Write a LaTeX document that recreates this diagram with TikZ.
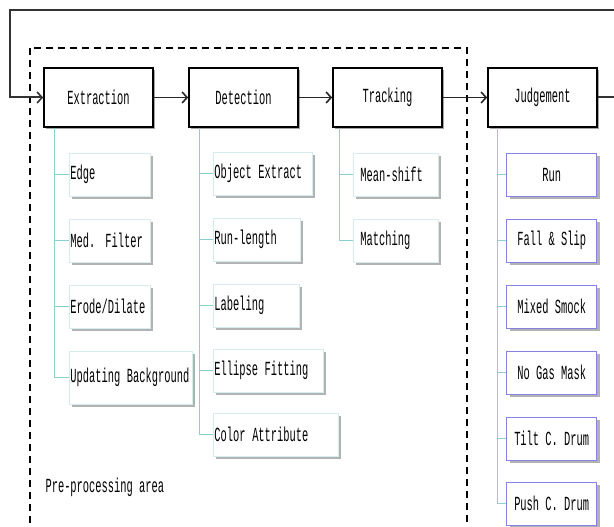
\documentclass[tikz,border=0pt]{standalone}
\usepackage{fontspec}
\newfontfamily\gulim[FakeStretch=0.52]{Liberation Mono}
\usepackage{tikz}
\usetikzlibrary{arrows.meta, calc, shadows, positioning}
\definecolor{treecol}{HTML}{8CCFD2}
\definecolor{leafcol}{HTML}{D6ECEE}
\definecolor{judgecol}{HTML}{8484E0}
\newcommand\branch[3]{
    \draw [treeline] ($(#1.south west)+(#2,0)$) |- (#3.west);
}
\tikzstyle{label}    = [font=\gulim\fontsize{20pt}{22pt}\selectfont]
\tikzstyle{mainbox}  = [label,rectangle,draw=black,line width=1.6pt,fill=white,minimum width=109pt,minimum height=59pt,drop shadow={shadow xshift=2pt,shadow yshift=-2pt,fill=black!70}]
\tikzstyle{leaf}     = [label,rectangle,draw=leafcol,fill=white,minimum height=43pt,inner xsep=1pt,align=left,anchor=west,drop shadow={shadow xshift=3pt,shadow yshift=-3pt,fill=black!60}]
\tikzstyle{verdict}  = [label,rectangle,draw=judgecol,line width=1pt,fill=white,minimum width=90pt,minimum height=43pt,anchor=west,drop shadow={shadow xshift=3pt,shadow yshift=-3pt,fill=black!60}]
\tikzstyle{treeline} = [draw=treecol,line width=0.8pt]
\tikzstyle{flow}     = [draw=black!85,line width=1.6pt,-{Straight Barb[length=5pt,width=11pt,line width=1.6pt]}]
\tikzstyle{area}     = [draw=black,line width=1.5pt,dash pattern=on 7pt off 5pt]

\begin{document}
\begin{tikzpicture}[x=1pt,y=-1pt]
        \clip (0,0) rectangle (614,527);

        \draw [area] (30,48) rectangle (467,528.5);

        \node[mainbox] (extraction) at (98.5,97.5)                  {Extraction};
        \node[mainbox] (detection)  at ($(extraction)+(145,0)$)     {Detection};
        \node[mainbox] (tracking)   at ($(detection)+(144,0)$)      {Tracking};
        \node[mainbox] (judgement)  at ($(tracking)+(155,0)$)       {Judgement};

        % extraction
        \node[leaf,text width=79pt]  (edge)      at ($(extraction.south west)+(26,47)$) {Edge};
        \node[leaf,text width=79pt]  (medfilter) at ($(edge.west)+(0,66)$)              {Med. Filter};
        \node[leaf,text width=79pt]  (erode)     at ($(medfilter.west)+(0,66)$)         {Erode/Dilate};
        \node[leaf,text width=121pt,minimum height=53pt] (updating) at ($(erode.west)+(0,71)$) {Updating Background};

        % detection
        \node[leaf,text width=97pt]  (objext)    at ($(detection.south west)+(25,46)$)  {Object Extract};
        \node[leaf,text width=85pt]  (runlength) at ($(objext.west)+(0,66)$)            {Run-length};
        \node[leaf,text width=84pt]  (labeling)  at ($(runlength.west)+(0,66)$)         {Labeling};
        \node[leaf,text width=108pt] (ellipse)   at ($(labeling.west)+(0,65)$)          {Ellipse Fitting};
        \node[leaf,text width=123pt] (colorattr) at ($(ellipse.west)+(0,64)$)           {Color Attribute};

        % tracking
        \node[leaf,inner xsep=7pt,text width=71pt] (meanshift) at ($(tracking.south west)+(21,47)$) {Mean-shift};
        \node[leaf,inner xsep=7pt,text width=71pt] (matching)  at ($(meanshift.west)+(0,66)$)       {Matching};

        % judgement
        \node[verdict] (run)    at ($(judgement.south west)+(19,47)$) {Run};
        \node[verdict] (fall)   at ($(run.west)+(0,66)$)              {Fall \& Slip};
        \node[verdict] (mixed)  at ($(fall.west)+(0,66)$)             {Mixed Smock};
        \node[verdict] (nogas)  at ($(mixed.west)+(0,66)$)            {No Gas Mask};
        \node[verdict] (tilt)   at ($(nogas.west)+(0,66)$)            {Tilt C. Drum};
        \node[verdict] (push)   at ($(tilt.west)+(0,65)$)             {Push C. Drum};

        \branch{extraction}{11}{edge}
        \branch{extraction}{11}{medfilter}
        \branch{extraction}{11}{erode}
        \branch{extraction}{11}{updating}
        \branch{detection}{11}{objext}
        \branch{detection}{11}{runlength}
        \branch{detection}{11}{labeling}
        \branch{detection}{11}{ellipse}
        \branch{detection}{11}{colorattr}
        \branch{tracking}{7}{meanshift}
        \branch{tracking}{7}{matching}
        \branch{judgement}{10}{run}
        \branch{judgement}{10}{fall}
        \branch{judgement}{10}{mixed}
        \branch{judgement}{10}{nogas}
        \branch{judgement}{10}{tilt}
        \branch{judgement}{10}{push}

        \node[label,anchor=west] (area label) at (42,487) {Pre-processing area};

        \draw[flow] (extraction) -- (detection);
        \draw[flow] (detection) -- (tracking);
        \draw[flow] (tracking) -- (judgement);

        % feedback loop
        \coordinate (loop east)     at (622,97.5);
        \coordinate (loop top east) at (622,10);
        \coordinate (loop top west) at (10,10);
        \coordinate (loop west)     at (10,97.5);
        \draw[flow,draw=black!80,line width=2pt] (judgement.east) -- (loop east) -- (loop top east) -- (loop top west) -- (loop west) -- (extraction.west);
    \end{tikzpicture}
\end{document}
